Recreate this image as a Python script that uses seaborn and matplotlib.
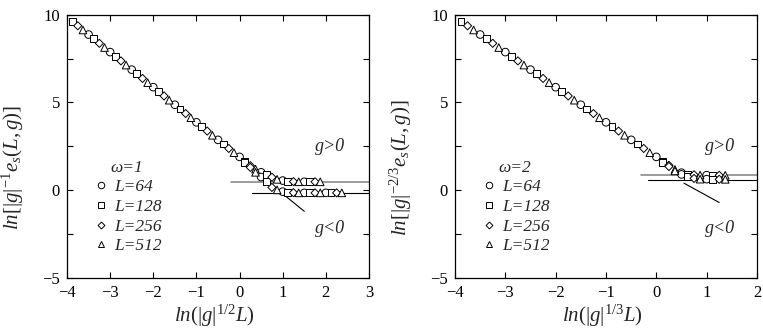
import numpy as np
import pandas as pd
import seaborn as sns
import matplotlib.pyplot as plt
from matplotlib.lines import Line2D

sns.set_theme(style="ticks")
plt.rcParams['font.family'] = ['Liberation Serif', 'DejaVu Serif']
plt.rcParams['mathtext.fontset'] = 'custom'
plt.rcParams['mathtext.it'] = 'Liberation Serif:italic'
plt.rcParams['mathtext.rm'] = 'Liberation Serif'

L_labels = ["L=64", "L=128", "L=256", "L=512"]
marker_list = ["o", "s", "D", "^"]
marker_sizes = [30, 24, 17, 30]

# straight part, same on both panels (one row per L)
lin_x = [
    [-3.5, -3.0, -2.5, -2.0, -1.5, -1.0, -0.5, 0.0],
    [-3.88, -3.38, -2.88, -2.38, -1.88, -1.38, -0.88, -0.38],
    [-3.75, -3.25, -2.75, -2.25, -1.75, -1.25, -0.75, -0.25],
    [-3.63, -3.13, -2.63, -2.13, -1.63, -1.13, -0.63, -0.13],
]
lin_y = [
    [8.87, 7.87, 6.87, 5.87, 4.87, 3.87, 2.87, 1.9],
    [9.63, 8.63, 7.63, 6.63, 5.63, 4.63, 3.63, 2.63],
    [9.37, 8.37, 7.37, 6.37, 5.37, 4.37, 3.37, 2.38],
    [9.13, 8.13, 7.13, 6.13, 5.13, 4.13, 3.13, 2.14],
]

# omega = 1, g > 0
w1_pos_x = [[0.5, 1.0, 1.5], [0.12, 0.62, 1.12, 1.62], [0.25, 0.75, 1.25, 1.75], [0.37, 0.87, 1.37, 1.87]]
w1_pos_y = [[1.02, 0.55, 0.48], [1.64, 0.88, 0.5, 0.48], [1.4, 0.74, 0.49, 0.48], [1.2, 0.62, 0.48, 0.48]]
# omega = 1, g < 0
w1_neg_x = [[0.5, 1.0, 1.5, 2.0], [0.12, 0.62, 1.12, 1.62, 2.12], [0.25, 0.75, 1.25, 1.75, 2.25],
            [0.37, 0.87, 1.37, 1.87, 2.37]]
w1_neg_y = [[0.75, -0.08, -0.15, -0.15], [1.58, 0.48, -0.12, -0.15, -0.15], [1.3, 0.16, -0.14, -0.15, -0.15],
            [1.02, 0.02, -0.15, -0.15, -0.15]]

# omega = 2, g > 0
w2_pos_x = [[0.5, 1.0], [0.12, 0.62, 1.12], [0.25, 0.75, 1.25], [0.37, 0.87, 1.37]]
w2_pos_y = [[1.0, 0.86], [1.65, 0.92, 0.85], [1.42, 0.88, 0.85], [1.18, 0.86, 0.85]]
# omega = 2, g < 0
w2_neg_x = [[0.5, 1.0], [0.12, 0.62, 1.12], [0.25, 0.75, 1.25], [0.37, 0.87, 1.37]]
w2_neg_y = [[0.9, 0.63], [1.6, 0.76, 0.62], [1.35, 0.67, 0.62], [1.1, 0.63, 0.62]]

# plateau lines (y, start x) and asymptote segments
w1_plateau_y = [0.47, -0.14]
w1_plateau_x0 = [-0.2, 0.28]
w1_asym_x = [0.85, 1.5]
w1_asym_y = [0.1, -1.2]
w2_plateau_y = [0.84, 0.56]
w2_plateau_x0 = [-0.31, -0.16]
w2_asym_x = [0.55, 1.25]
w2_asym_y = [0.4, -0.7]


def make_df(pos_x, pos_y, neg_x, neg_y):
    xs, ys, ls = [], [], []
    for i, lab in enumerate(L_labels):
        px = lin_x[i] + pos_x[i] + neg_x[i]
        py = lin_y[i] + pos_y[i] + neg_y[i]
        xs += px
        ys += py
        ls += [lab] * len(px)
    return pd.DataFrame({"x": xs, "y": ys, "L": ls})


fig = plt.figure(figsize=(7.63, 3.32), dpi=100)
ax1 = fig.add_axes([0.0878, 0.1627, 0.3958, 0.793])
ax2 = fig.add_axes([0.5963, 0.1627, 0.3958, 0.793])

panels = [
    (ax1, make_df(w1_pos_x, w1_pos_y, w1_neg_x, w1_neg_y), w1_plateau_y, w1_plateau_x0, w1_asym_x, w1_asym_y,
     3, "ω=1", r"$ln[|g|^{-1}e_s(L,g)]$", r"$ln(|g|^{1/2}L)$", 2.1),
    (ax2, make_df(w2_pos_x, w2_pos_y, w2_neg_x, w2_neg_y), w2_plateau_y, w2_plateau_x0, w2_asym_x, w2_asym_y,
     2, "ω=2", r"$ln[|g|^{-2/3}e_s(L,g)]$", r"$ln(|g|^{1/3}L)$", 1.27),
]

for ax, df, py, px0, ax_x, ax_y, xmax, title, ylab, xlab, gx in panels:
    # plateau lines: upper one grey, lower one black
    ax.plot([px0[0], xmax], [py[0], py[0]], color="#808080", lw=1.1, zorder=1)
    ax.plot([px0[1], xmax], [py[1], py[1]], color="black", lw=0.8, zorder=1)
    ax.plot(ax_x, ax_y, color="black", lw=0.8, zorder=1)

    sns.scatterplot(data=df, x="x", y="y", style="L", size="L",
                    markers=dict(zip(L_labels, marker_list)),
                    sizes=dict(zip(L_labels, marker_sizes)),
                    color="white", edgecolor="black", linewidth=0.7,
                    legend=False, ax=ax, zorder=3)

    ax.set_xlim(-4, xmax)
    ax.set_ylim(-5, 10)
    ax.set_xticks(np.arange(-4, xmax + 1))
    ax.set_yticks([-5, -2.5, 0, 2.5, 5, 7.5, 10])
    ax.set_yticklabels(["\u22125", "", "0", "", "5", "", "10"])
    ax.tick_params(direction="in", top=True, right=True, length=4, width=0.8,
                   labelsize=12, pad=5, color="black", labelcolor="black")
    for sp in ax.spines.values():
        sp.set_color("black")
        sp.set_linewidth(0.9)

    ax.set_xlabel(xlab, fontsize=15)
    ax.set_ylabel(ylab, fontsize=15)
    ax.xaxis.set_label_coords(0.49, -0.095)
    ax.yaxis.set_label_coords(-0.135, 0.42)

    ax.text(gx, 2.5, "g>0", fontsize=13, style="italic", ha="center", va="center")
    ax.text(gx, -2.2, "g<0", fontsize=13, style="italic", ha="center", va="center")

    handles = [Line2D([], [], marker=m, ls="none", mfc="white", mec="black", ms=np.sqrt(s) * 0.85, mew=0.7)
               for m, s in zip(marker_list, marker_sizes)]
    ax.legend(handles, L_labels, title=title, loc="upper left", bbox_to_anchor=(0.06, 0.475),
              frameon=False, prop={"size": 12.5, "style": "italic"},
              title_fontproperties={"size": 12.5, "style": "italic"},
              handletextpad=0.3, labelspacing=0.2, handlelength=1.0, borderaxespad=0)

fig.savefig("out.png", dpi=100)
